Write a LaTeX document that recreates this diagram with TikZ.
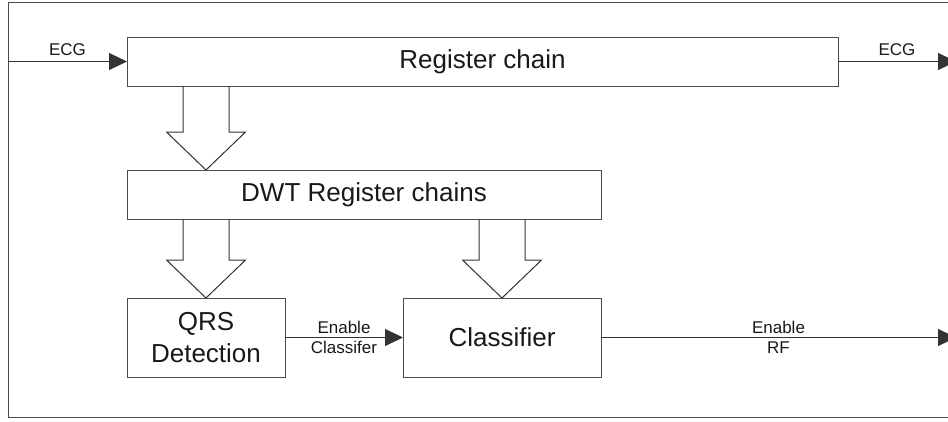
\documentclass[tikz,border=0pt]{standalone}
\usepackage{fontspec}
\setmainfont{Liberation Sans}
\usetikzlibrary{arrows.meta,calc}

\tikzset{
  boxline/.style={draw=black!70, line width=1pt},
  block/.style={boxline, rectangle, inner sep=0pt, outer sep=0pt, align=center,
    font=\fontsize{26}{31.5}\selectfont, text=black!90},
  sig/.style={draw=black!80, line width=1pt, -{Triangle[length=18pt,width=17pt]}},
  siglabel/.style={inner sep=0pt, align=center, text=black!90,
    font=\fontsize{17}{20}\selectfont},
}

% Broad hollow arrow pointing down from #1 to #2
\newcommand{\hollowdown}[2]{%
  \draw[boxline, black!80] let \p1=(#1), \p2=(#2) in
    (\x1-23pt,\y1) -- (\x1-23pt,\y2+38pt) -- (\x1-39.5pt,\y2+38pt) -- (\x1,\y2)
    -- (\x1+39.5pt,\y2+38pt) -- (\x1+23pt,\y2+38pt) -- (\x1+23pt,\y1);}

\begin{document}
\begin{tikzpicture}[x=1pt, y=-1pt]
  \clip (0,0) rectangle (948,421);
  \fill[white] (0,0) rectangle (948,421);

  % outer frame (open on the right)
  \draw[boxline] (960,2) -- (8,2) -- (8,417) -- (960,417);

  % blocks
  \node[block, minimum width=711pt, minimum height=49pt] (reg) at (482.5,61.5) {Register chain};
  \node[block, minimum width=474pt, minimum height=49pt] (dwt) at (364,194.5) {DWT Register chains};
  \node[block, minimum width=158pt, minimum height=79pt] (qrs) at (206,337.5) {QRS\\Detection};
  \node[block, minimum width=198pt, minimum height=79pt] (cls) at (502,337.5) {Classifier};

  % data paths between blocks
  \hollowdown{reg.south -| qrs.north}{dwt.north -| qrs.north}
  \hollowdown{dwt.south -| qrs.north}{qrs.north}
  \hollowdown{dwt.south -| cls.north}{cls.north}

  % signal lines
  \coordinate (ecgin) at (8,61.5);
  \coordinate (ecgout) at (956,61.5);
  \coordinate (rfout) at (956,337.5);

  \draw[sig] (ecgin) -- node[siglabel, above=5.5pt] (lecgin) {ECG} (reg.west);
  \draw[sig] (reg.east) -- node[siglabel, above=5.5pt] (lecgout) {ECG} (ecgout);
  \draw[sig] (qrs.east) -- node[siglabel] (len) {Enable\\Classifer} (cls.west);
  \draw[sig] (cls.east) -- node[siglabel] (lrf) {Enable\\RF} (rfout);
\end{tikzpicture}
\end{document}
